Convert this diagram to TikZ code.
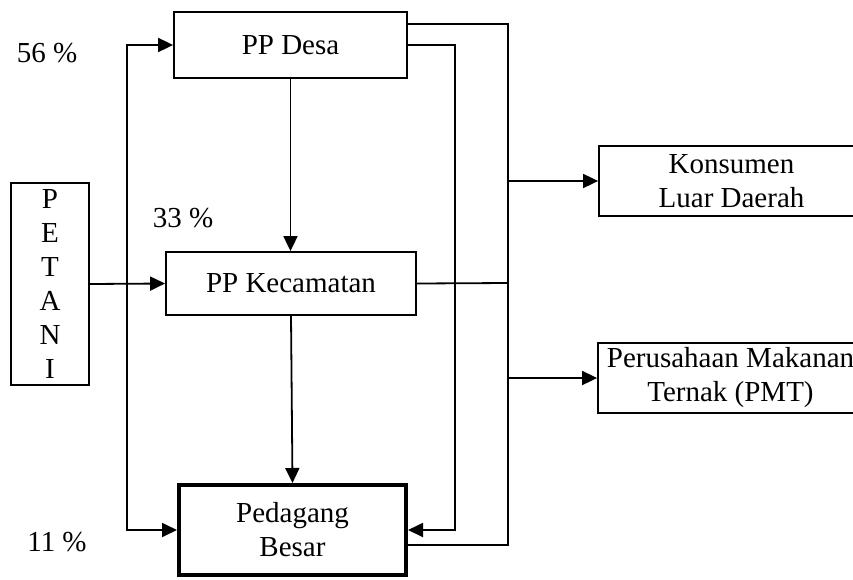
\documentclass[tikz,border=0pt]{standalone}
\usepackage{fontspec}
\setmainfont{Liberation Serif}
\usetikzlibrary{arrows.meta,positioning}

\begin{document}
\begin{tikzpicture}[
  x=1pt, y=-1pt,
  every node/.style={font=\fontsize{29}{34}\selectfont},
  box/.style={draw, line width=1.8pt, inner sep=0pt, align=center},
  arr/.style={-{Triangle[length=15pt,width=14pt]}},
  line width=1.8pt
]
  \useasboundingbox (0,0) rectangle (853,579);

  \node[box, minimum width=78pt, minimum height=202pt] (petani) at (50,284) {P\\E\\T\\A\\N\\I};
  \node[box, minimum width=233pt, minimum height=66pt] (desa) at (290.5,45) {PP Desa};
  \node[box, minimum width=250pt, minimum height=63pt] (kec) at (291,283.5) {PP Kecamatan};
  \node[box, line width=4pt, minimum width=227pt, minimum height=90pt] (ped) at (292.5,530) {Pedagang\\Besar};
  \node[box, minimum width=265pt, minimum height=70pt] (kons) at (731.5,181) {Konsumen\\Luar Daerah};
  \node[box, minimum width=265pt, minimum height=70pt] (pmt) at (730.5,378) {Perusahaan Makanan\\Ternak (PMT)};

  \node (p56) at (47,53) {56 \%};
  \node (p33) at (183,218) {33 \%};
  \node (p11) at (57,542) {11 \%};

  \coordinate (split) at (127,283);
  \coordinate (inner) at (455,283);
  \coordinate (rbus) at (508,283);

  \draw[arr] (petani.east) -- (kec.west);
  \draw[arr] (split) |- (desa.west);
  \draw[arr] (split) |- (ped.west);
  \draw[arr] (desa.south) -- (desa.south |- kec.north);
  \draw[arr] (kec.south) -- (ped.north);

  \draw[arr] (desa.east) -| (inner) |- (ped.east);
  \draw ([yshift=21pt]desa.east) -| (rbus) |- ([yshift=-15pt]ped.east);
  \draw (kec.east) -- (rbus);
  \draw[arr] (rbus |- kons.west) -- (kons.west);
  \draw[arr] (rbus |- pmt.west) -- (pmt.west);
\end{tikzpicture}
\end{document}
